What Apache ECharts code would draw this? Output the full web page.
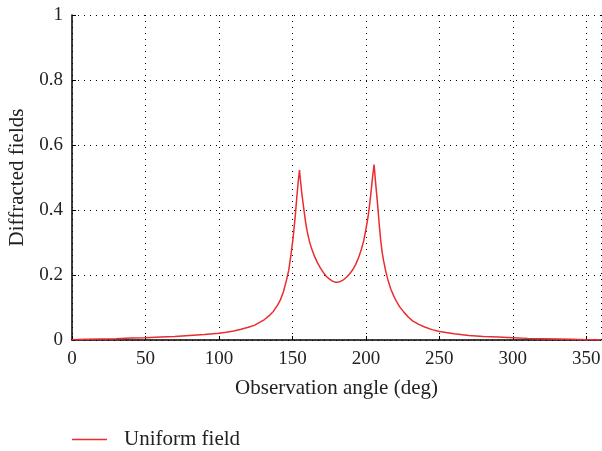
<!DOCTYPE html>
<html><head><meta charset="utf-8">
<script src="https://cdn.jsdelivr.net/npm/echarts@6/dist/echarts.min.js"></script>
<style>html,body{margin:0;padding:0;background:#fff}#c{width:602px;height:451px}</style>
</head><body><div id="c"></div>
<script>
const angles = [0,10,20,30,40,50,60,70,80,90,100,105,110,115,120,124,128,131,134,137,140,142,144,146,147.5,149,150.5,152,153,154,154.8,155.5,156.3,157,158,159,160,161.5,163,165,167,169,171,173,175,177,179,181,183,185,187,189,191,193,195,197,198.5,200,201.5,202.5,203.5,204.5,205.6,206.3,207,208,209,210,211,212,213.5,215,217,219,221,223,226,229,232,236,240,245,250,260,270,280,290,300,310,320,330,340,350,360];
const uniformField = [0.001,0.002,0.003,0.004,0.006,0.007,0.009,0.011,0.014,0.017,0.021,0.024,0.028,0.033,0.039,0.045,0.055,0.063,0.074,0.088,0.108,0.125,0.150,0.185,0.215,0.262,0.315,0.385,0.440,0.490,0.523,0.490,0.455,0.430,0.395,0.362,0.335,0.305,0.282,0.258,0.238,0.222,0.208,0.196,0.188,0.182,0.178,0.178,0.181,0.186,0.194,0.204,0.216,0.232,0.253,0.280,0.305,0.340,0.380,0.415,0.455,0.500,0.540,0.500,0.465,0.415,0.360,0.310,0.272,0.245,0.212,0.185,0.156,0.135,0.117,0.102,0.085,0.070,0.058,0.048,0.040,0.032,0.026,0.019,0.014,0.011,0.009,0.007,0.005,0.004,0.003,0.002,0.001,0.001];
const xTicks = {min:0, max:360, interval:50};
const yTicks = {min:0, max:1, interval:0.2};
const seriesName = 'Uniform field';
const xName = 'Observation angle (deg)';
const yName = 'Diffracted fields';

const font = 'Liberation Serif';
const red = '#ec2b2e';
const chart = echarts.init(document.getElementById('c'));
const gridLine = {show:true, lineStyle:{color:'#000', width:1, type:[1,5]}};
chart.setOption({
  animation:false,
  grid:{left:72, right:1, top:15, bottom:111, containLabel:false, outerBoundsMode:'none'},
  legend:{left:67, top:424, itemWidth:35, itemHeight:10, itemGap:10,
    data:[{name:seriesName, icon:'path://M0,5 L35,5 L35,6.3 L0,6.3 Z', itemStyle:{color:red, borderWidth:0}}],
    textStyle:{fontFamily:font, fontSize:21, color:'#222', padding:[0,0,0,12]}},
  xAxis:{type:'value', min:xTicks.min, max:xTicks.max, interval:xTicks.interval,
    name:xName, nameLocation:'middle', nameGap:38,
    nameTextStyle:{fontFamily:font, fontSize:21, color:'#222'},
    axisLine:{show:true, lineStyle:{color:'#000', width:1.5}},
    axisTick:{show:true, inside:true, length:4, lineStyle:{color:'#000'}},
    axisLabel:{fontFamily:font, fontSize:19, color:'#222', margin:10, showMaxLabel:false,
      formatter:v=> v===360?'':String(v)},
    splitLine:gridLine},
  yAxis:{type:'value', min:yTicks.min, max:yTicks.max, interval:yTicks.interval,
    name:yName, nameLocation:'middle', nameGap:43, nameRotate:90,
    nameTextStyle:{fontFamily:font, fontSize:21, color:'#222'},
    axisLine:{show:true, lineStyle:{color:'#000', width:1.5}},
    axisTick:{show:true, inside:true, length:4, lineStyle:{color:'#000'}},
    axisLabel:{fontFamily:font, fontSize:19, color:'#222', margin:9,
      formatter:v=> (Math.abs(v-1)<1e-9?'1':(v===0?'0':String(+v.toFixed(1))))},
    splitLine:gridLine},
  series:[{name:seriesName, type:'line', symbol:'none', smooth:false,
    lineStyle:{color:red, width:1.5}, itemStyle:{color:red},
    data:angles.map((a,i)=>[a, uniformField[i]])}]
});
</script></body></html>
